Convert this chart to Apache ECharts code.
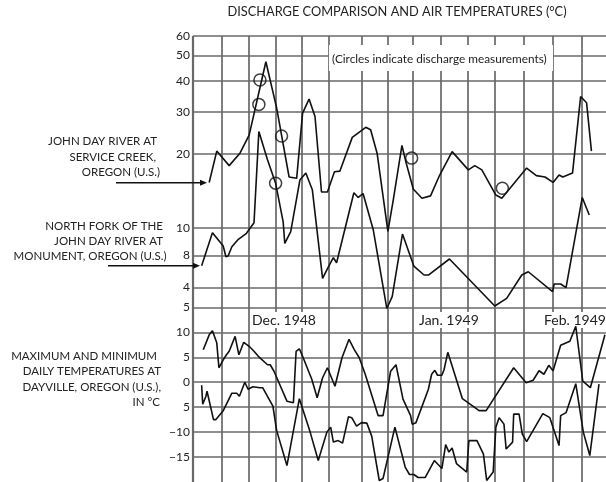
<!DOCTYPE html>
<html><head><meta charset="utf-8">
<script src="https://cdn.jsdelivr.net/npm/echarts@6/dist/echarts.min.js"></script>
<style>html,body{margin:0;padding:0;background:#fff}#c{width:606px;height:482px}</style>
</head><body><div id="c"></div>
<script>
// ---- data (x = days from chart start) ----
const serviceDays = [3.0,4.4,6.7,8.7,10.4,13.5,15.5,17.8,19.2,20.3,21.5,22.6,23.8,24.9,26.2,27.2,29.5,32.0,32.9,34.1,36.1,37.1,38.7,39.5,40.8,42.4,44.0,45.7,48.0,51.0,52.2,53.5,56.1,57.2,61.8,63.6,65.2,66.7,67.8,68.5,70.3,71.8,72.9,73.8];
const serviceFlow = [15.3,20.5,17.9,20.1,23.8,47.2,30.6,16.1,15.9,29.2,33.3,28.3,14.0,14.0,16.9,17.0,23.3,25.6,25.0,20.1,9.7,13.0,21.6,18.3,14.4,13.2,13.5,16.4,20.4,17.2,17.9,17.2,13.6,13.2,17.5,16.3,16.1,15.3,16.4,16.1,16.7,34.1,32.2,20.5];
const northDays = [1.6,3.6,5.6,6.1,6.5,7.2,8.4,9.9,11.3,12.2,13.8,15.3,16.7,17.0,18.1,19.8,20.9,22.1,24.0,25.1,26.0,26.6,29.8,30.6,31.5,33.4,35.9,36.9,38.8,40.9,42.8,43.6,47.5,55.9,58.1,60.9,62.1,66.6,66.9,68.1,69.1,72.1,73.4];
const northFlow = [7.03,9.57,8.45,7.65,7.70,8.40,9.00,9.52,10.5,24.6,18.9,15.2,10.6,8.67,9.66,15.65,16.7,14.3,6.25,6.97,7.58,7.23,13.9,13.3,13.8,9.81,4.72,5.27,9.45,7.01,6.45,6.45,7.49,4.83,5.19,6.45,6.65,5.52,5.93,5.93,5.73,13.3,11.3];
const measureDays = [12.4,12.2,16.4,15.3,40.5,57.3];
const measureFlow = [39.8,31.7,23.6,15.2,19.2,14.5];
const maxDays = [1.9,3.0,3.6,3.9,4.4,4.8,5.6,6.2,6.7,7.8,8.5,9.4,10.4,11.3,12.1,13.8,14.3,15.0,17.4,18.6,19.1,19.7,20.3,22.0,23.0,24.0,24.9,26.3,27.6,28.9,29.9,30.8,31.9,34.3,35.2,36.6,37.6,38.9,40.3,40.6,41.3,43.6,44.2,44.8,45.3,46.1,46.5,47.2,49.9,53.0,54.3,59.4,61.7,63.0,64.1,65.0,65.9,66.7,68.1,69.8,70.9,72.2,73.6,76.3];
const maxTemp = [6.5,9.5,10.3,10.0,7.9,2.9,4.5,5.5,6.2,9.2,5.5,8.0,7.2,6.2,5.2,3.5,3.5,2.2,-3.8,-4.1,6.2,6.7,5.2,0.6,-3.1,0.9,2.9,-0.8,4.9,8.6,6.5,4.9,1.6,-6.7,-6.7,2.2,3.5,-3.4,-6.7,-8.4,-8.1,-1.4,1.6,2.4,1.4,1.4,2.5,6.0,-3.3,-5.7,-5.7,2.9,-0.1,0.4,2.3,1.6,3.4,2.3,7.4,8.2,11.2,0.2,-1.1,9.5];
const minDays = [1.6,1.8,2.4,2.6,3.8,4.2,5.6,7.2,8.1,8.6,9.6,10.2,11.1,12.4,12.9,14.8,15.5,17.4,19.7,21.7,23.2,24.8,25.5,26.0,26.9,27.7,28.8,29.4,30.3,31.2,32.2,33.1,34.5,35.2,37.4,39.3,40.1,40.9,41.7,43.0,44.7,46.1,46.8,47.4,48.0,48.8,50.7,51.1,52.6,52.8,53.8,54.4,55.6,56.1,56.7,57.6,58.0,59.2,59.4,60.4,61.0,61.8,64.8,66.1,67.8,68.1,69.1,70.9,72.3,73.5,73.8,75.2];
const minTemp = [-0.6,-4.4,-2.8,-1.8,-7.5,-7.5,-5.7,-2.2,-2.2,-2.8,0.0,-1.4,-0.9,-1.1,-1.1,-4.8,-9.7,-16.7,-3.3,-10.0,-15.7,-10.0,-9.0,-12.0,-11.7,-12.2,-6.9,-7.1,-8.8,-8.1,-8.2,-10.8,-19.7,-19.3,-9.0,-17.0,-18.5,-18.5,-19.1,-19.1,-15.7,-17.3,-12.5,-14.0,-13.2,-16.3,-18.0,-11.7,-11.7,-11.4,-14.4,-19.7,-18.0,-9.0,-7.1,-8.4,-13.4,-12.0,-6.4,-6.4,-10.4,-11.9,-6.3,-7.1,-12.7,-6.7,-6.1,-0.3,-10.0,-14.7,-14.6,-0.4];
// grid / tick definitions
const gridDays = [5.37,10.31,15.24,20.06,25.13,31.30,36.06,40.69,45.80,50.87,55.87,61.35,66.72,72.04];
const flowTickValues = [60,50,39.4,29.5,20,10,7.74,5.74];
const flowTickLabels = ['60','50','40','30','20','10','8','4'];
const tempTickValues = [15,10,5,0,-5,-10,-15];
const tempTickLabels = ['5','10','5','0','5','\u221210','\u221215'];
const monthLabels = ['Dec. 1948','Jan. 1949','Feb. 1949'];
const titleText = 'DISCHARGE COMPARISON AND AIR TEMPERATURES (\u00B0C)';
const noteText = '(Circles indicate discharge measurements)';
const serviceLabel = ['JOHN DAY RIVER AT','SERVICE CREEK,','OREGON (U.S.)'];
const northLabel = ['NORTH FORK OF THE','JOHN DAY RIVER AT','MONUMENT, OREGON (U.S.)'];
const tempLabel = ['MAXIMUM AND MINIMUM','DAILY TEMPERATURES AT','DAYVILLE, OREGON (U.S.),','IN \u00B0C'];

const FONT = 'Lato';
const GRIDC = '#686868';
const zip = (a,b)=>a.map((v,i)=>[v,b[i]]);

const chart = echarts.init(document.getElementById('c'), null, {renderer:'canvas'});

const hLine = (vals, labels) => ({
  z:1, symbol:['none','none'], silent:true, animation:false,
  lineStyle:{color:GRIDC, width:1.7, type:'solid'},
  label:{show:true, position:'start', distance:3, color:'#222', fontFamily:FONT, fontSize:12,
         formatter:p=>labels[vals.indexOf(p.value)]},
  data: vals.map(v=>({yAxis:v}))
});

const dataLine = (x, y, xi) => ({
  type:'line', xAxisIndex:xi, yAxisIndex:xi, data:zip(x,y), symbol:'none', z:10,
  lineStyle:{color:'#111', width:1.6}, clip:false, animation:false
});

function textBlock(lines, rights, ys){
  return lines.map((t,i)=>({type:'text', z:20, style:{text:t, x:rights[i], y:ys[i], align:'right', verticalAlign:'middle',
    fill:'#222', font:'11.5px '+FONT}}));
}
function arrow(x1,x2,y){
  return [
    {type:'line', z:20, shape:{x1:x1,y1:y,x2:x2-5,y2:y}, style:{stroke:'#111', lineWidth:1.5}},
    {type:'polygon', z:20, shape:{points:[[x2,y],[x2-7,y-3],[x2-7,y+3]]}, style:{fill:'#111'}}
  ];
}

const option = {
  animation:false,
  backgroundColor:'#fff',
  grid:[
    {left:193, top:36, width:413, height:277.6},
    {left:193, top:307.4, width:413, height:176},
    {left:193, top:36, width:413, height:446}
  ],
  xAxis:[0,1,2].map(i=>({type:'value', gridIndex:i, min:0, max:76.5, show:false})),
  yAxis:[
    {type:'log', gridIndex:0, min:4.5, max:60, logBase:10, show:false},
    {type:'value', gridIndex:1, min:-20, max:15, show:false},
    {type:'value', gridIndex:2, min:0, max:1, show:false}
  ],
  series:[
    {type:'line', xAxisIndex:2, yAxisIndex:2, data:[], z:1,
     markLine:{z:1, symbol:['none','none'], silent:true, animation:false, label:{show:false},
       lineStyle:{color:GRIDC, width:1.7, type:'solid'},
       data:[{xAxis:0, lineStyle:{width:2.2}}].concat(gridDays.map(d=>({xAxis:d})))}},
    {type:'line', xAxisIndex:0, yAxisIndex:0, data:[], z:1, markLine:hLine(flowTickValues, flowTickLabels)},
    {type:'line', xAxisIndex:1, yAxisIndex:1, data:[], z:1, markLine:hLine(tempTickValues, tempTickLabels)},
    dataLine(serviceDays, serviceFlow, 0),
    dataLine(northDays, northFlow, 0),
    dataLine(maxDays, maxTemp, 1),
    dataLine(minDays, minTemp, 1),
    {type:'scatter', xAxisIndex:0, yAxisIndex:0, data:zip(measureDays, measureFlow), z:11,
     symbol:'circle', symbolSize:12, itemStyle:{color:'rgba(0,0,0,0)', borderColor:'#111', borderWidth:1.5}}
  ],
  graphic:[
    {type:'text', z:20, style:{text:titleText, x:397, y:12, align:'center', verticalAlign:'middle', fill:'#222', font:'12.8px '+FONT}},
    {type:'rect', z:5, shape:{x:329, y:45, width:224, height:26}, style:{fill:'#fff'}},
    {type:'text', z:6, style:{text:noteText, x:332, y:59, align:'left', verticalAlign:'middle', fill:'#222', font:'11.8px '+FONT}},
    {type:'text', z:6, style:{text:monthLabels[0], x:251, y:320, align:'left', verticalAlign:'middle', fill:'#222', font:'14px '+FONT, backgroundColor:'#fff', padding:[1,1]}},
    {type:'text', z:6, style:{text:monthLabels[1], x:418, y:320, align:'left', verticalAlign:'middle', fill:'#222', font:'14px '+FONT, backgroundColor:'#fff', padding:[1,1]}},
    {type:'text', z:6, style:{text:monthLabels[2], x:543, y:320, align:'left', verticalAlign:'middle', fill:'#222', font:'14px '+FONT, backgroundColor:'#fff', padding:[1,1]}}
  ].concat(
    textBlock(serviceLabel, [157,156,160], [141.7,157.3,172.7]),
    textBlock(northLabel, [163,163,166.5], [226,241,256]),
    textBlock(tempLabel, [157,161,161,160], [356,371.7,387.3,402.7]),
    arrow(116,207,182.7),
    arrow(108,200,265.7)
  )
};
chart.setOption(option);
</script></body></html>
